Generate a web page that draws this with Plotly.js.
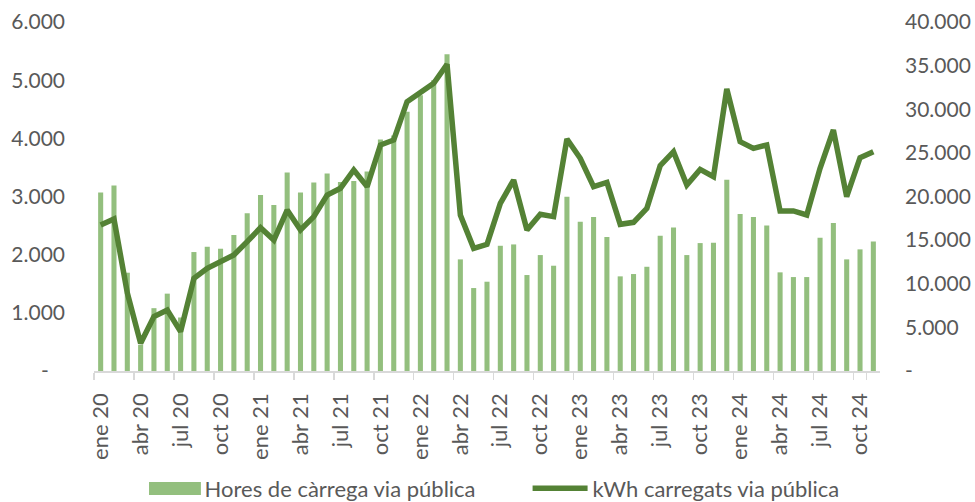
<!DOCTYPE html>
<html>
<head>
<meta charset="utf-8">
<script src="https://cdn.plot.ly/plotly-3.0.1.min.js"></script>
<style>
html,body{margin:0;padding:0;background:#fff;}
#chart{width:975px;height:502px;}
</style>
</head>
<body>
<div id="chart"></div>
<script>
const monthNames = ["ene","feb","mar","abr","may","jun","jul","ago","sep","oct","nov","dic"];
const years = ["20","21","22","23","24"];
const months = [];
years.forEach(y => monthNames.forEach(m => months.push(m + " " + y)));
months.length = 59; // ene 20 .. nov 24

const hoursPublic = [
  3070, 3190, 1690, 450, 1080, 1330, 920, 2045, 2136, 2102, 2337, 2710,
  3024, 2852, 3414, 3070, 3242, 3397, 3250, 3265, 3430, 3980, 4050, 4455,
  4742, 5000, 5447, 1919, 1426, 1535, 2153, 2176, 1650, 1993, 1810, 2995,
  2566, 2646, 2302, 1627, 1667, 1792, 2325, 2469, 1993, 2199, 2205, 3287,
  2698, 2646, 2503, 1696, 1615, 1615, 2291, 2543, 1919, 2091, 2228
];
const kwhPublic = [
  16730, 17420, 8940, 3170, 6230, 6990, 4510, 10620, 11770, 12530, 13300, 14820,
  16430, 15010, 18450, 16160, 17690, 20170, 20940, 23040, 21130, 25900, 26480, 30870,
  31830, 32970, 35150, 17880, 14060, 14520, 19220, 21890, 16160, 17960, 17690, 26590,
  24380, 21130, 21620, 16810, 17040, 18650, 23530, 25140, 21320, 23110, 22270, 32320,
  26280, 25520, 25900, 18340, 18340, 17880, 23230, 27620, 19980, 24450, 25140
];
const xTickLabels = months.filter((m, i) => i % 3 === 0);
const leftTicks = [0, 1000, 2000, 3000, 4000, 5000, 6000];
const leftTickText = ["-\u00a0\u00a0\u00a0", "1.000", "2.000", "3.000", "4.000", "5.000", "6.000"];
const rightTicks = [0, 5000, 10000, 15000, 20000, 25000, 30000, 35000, 40000];
const rightTickText = ["-", "5.000", "10.000", "15.000", "20.000", "25.000", "30.000", "35.000", "40.000"];

const FONT = "Lato, 'Open Sans', sans-serif";
const GREY = "#595959";
const BAR_COLOR = "#93BF7E";

const data = [
  {
    type: "bar",
    name: "Hores de càrrega via pública",
    x: months,
    y: hoursPublic,
    marker: {color: BAR_COLOR},
    yaxis: "y"
  },
  {
    type: "scatter",
    mode: "lines",
    name: "kWh carregats via pública",
    x: months,
    y: kwhPublic,
    line: {color: "#548235", width: 5.5},
    yaxis: "y2"
  }
];

const layout = {
  width: 975,
  height: 502,
  margin: {l: 94, r: 95, t: 22, b: 131},
  paper_bgcolor: "#fff",
  plot_bgcolor: "#fff",
  font: {family: FONT, size: 21, color: GREY},
  bargap: 0.62,
  showlegend: true,
  legend: {
    orientation: "h",
    x: 0.058, xanchor: "left",
    yref: "container",
    y: 0.027, yanchor: "middle",
    bgcolor: "rgba(0,0,0,0)",
    font: {family: FONT, size: 22, color: GREY},
    itemwidth: 55,
    entrywidth: 318,
    entrywidthmode: "pixels",
    traceorder: "normal"
  },
  // wide legend key for the bar series, as in the original Excel legend
  shapes: [{
    type: "rect", xref: "paper", yref: "paper",
    x0: 0.070, x1: 0.136, y0: -0.355, y1: -0.318,
    fillcolor: BAR_COLOR, line: {width: 0}, layer: "above"
  }],
  xaxis: {
    type: "category",
    categoryorder: "array",
    categoryarray: months,
    tickmode: "array",
    tickvals: xTickLabels,
    ticktext: xTickLabels,
    tickangle: -90,
    tickson: "boundaries",
    ticks: "outside",
    ticklen: 7,
    tickwidth: 1.5,
    tickcolor: "#D9D9D9",
    showline: true,
    linecolor: "#D9D9D9",
    linewidth: 1.5,
    showgrid: false,
    zeroline: false,
    ticklabelstandoff: 12,
    tickfont: {family: FONT, size: 22, color: GREY},
    automargin: false,
    fixedrange: true
  },
  yaxis: {
    range: [0, 6000],
    tickmode: "array",
    tickvals: leftTicks,
    ticktext: leftTickText,
    showgrid: false,
    zeroline: false,
    showline: false,
    ticks: "",
    ticklabelstandoff: 28,
    automargin: false,
    tickfont: {family: FONT, size: 21, color: GREY}
  },
  yaxis2: {
    range: [0, 40000],
    overlaying: "y",
    side: "right",
    tickmode: "array",
    tickvals: rightTicks,
    ticktext: rightTickText,
    showgrid: false,
    zeroline: false,
    showline: false,
    ticks: "",
    ticklabelstandoff: 24,
    automargin: false,
    tickfont: {family: FONT, size: 21, color: GREY}
  }
};

Plotly.newPlot("chart", data, layout, {displayModeBar: false, staticPlot: true});
</script>
</body>
</html>
